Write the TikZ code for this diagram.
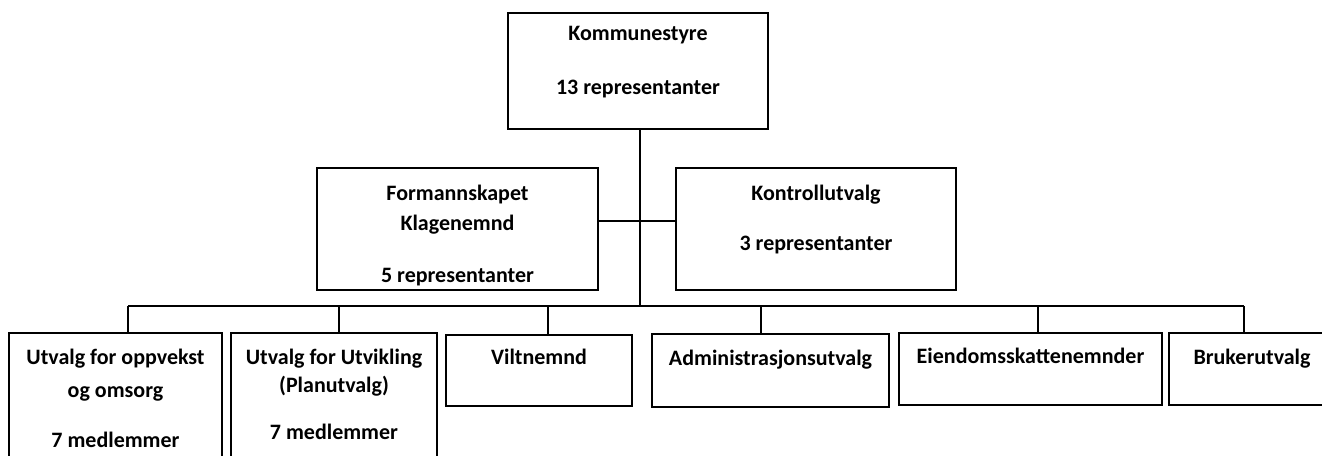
\documentclass[tikz,border=0pt]{standalone}
\usepackage{fontspec}
\setmainfont{Carlito}
\usetikzlibrary{positioning}

\begin{document}
\begin{tikzpicture}[x=0.5pt, y=-0.5pt]
  \def\busy{306}
  \def\linew{0.6pt}
  \tikzstyle{unit} = [rectangle, draw, line width = 0.7pt, inner sep = 0pt, fill=white]
  \tikzstyle{caption} = [inner sep = 0pt, align = center, font = \bfseries\fontsize{11}{15}\selectfont]
  \tikzstyle{wire} = [line width = \linew]

  \clip (0, 0) rectangle (1322, 455);

  % top level
  \node[unit, minimum width = 130pt, minimum height = 58pt] (kom) at (638, 71) {};
  \node[caption] [below = 7pt of kom.north] {Kommunestyre\\[12pt]13 representanter};

  % second level
  \node[unit, minimum width = 140.5pt, minimum height = 61pt] (form) at (457.5, 229) {};
  \node[unit, minimum width = 140pt, minimum height = 61pt] (kontroll) at (816, 229) {};
  \node[caption] [below = 8.5pt of form.north] {Formannskapet\\Klagenemnd\\[11pt]5 representanter};
  \node[caption] [below = 8.5pt of kontroll.north] {Kontrollutvalg\\[10pt]3 representanter};

  % committees
  \node[unit, minimum width = 106.5pt, minimum height = 71pt] (oppvekst) at (115.5, 404) {};
  \node[unit, minimum width = 103pt, minimum height = 71pt] (utvikling) at (334, 404) {};
  \node[unit, minimum width = 93pt, minimum height = 35.5pt] (vilt) at (539, 370.5) {};
  \node[unit, minimum width = 118.5pt, minimum height = 36.5pt] (admin) at (770.5, 370.5) {};
  \node[unit, minimum width = 131.5pt, minimum height = 36pt] (eiendom) at (1030.5, 369) {};
  \node[unit, minimum width = 83pt, minimum height = 36pt] (bruker) at (1252, 369) {};

  \node[caption] [below = 8pt of oppvekst.north] {Utvalg for oppvekst\\[1.5pt]og omsorg\\[10pt]7 medlemmer};
  \node[caption] [below = 8pt of utvikling.north] {Utvalg for Utvikling\\[-1pt](Planutvalg)\\[8.5pt]7 medlemmer};
  \node[caption] [below = 7pt of vilt.north] {Viltnemnd};
  \node[caption] [below = 8pt of admin.north] {Administrasjonsutvalg};
  \node[caption] [below = 7.5pt of eiendom.north] {Eiendomsskattenemnder};
  \node[caption] [below = 8pt of bruker.north] {Brukerutvalg};

  % connectors
  \coordinate (hub) at (640, \busy);
  \coordinate (b1) at (128, \busy);
  \coordinate (b2) at (339, \busy);
  \coordinate (b3) at (548, \busy);
  \coordinate (b4) at (761, \busy);
  \coordinate (b5) at (1038, \busy);
  \coordinate (b6) at (1244, \busy);

  \draw[wire] (kom.south -| hub) -- (hub);
  \draw[wire] ([yshift=4pt]form.east) -- ([yshift=4pt]kontroll.west);
  \draw[wire] (b1) -- (b6);
  \draw[wire] (b1) -- (b1 |- oppvekst.north);
  \draw[wire] (b2) -- (b2 |- utvikling.north);
  \draw[wire] (b3) -- (b3 |- vilt.north);
  \draw[wire] (b4) -- (b4 |- admin.north);
  \draw[wire] (b5) -- (b5 |- eiendom.north);
  \draw[wire] (b6) -- (b6 |- bruker.north);

\end{tikzpicture}
\end{document}
